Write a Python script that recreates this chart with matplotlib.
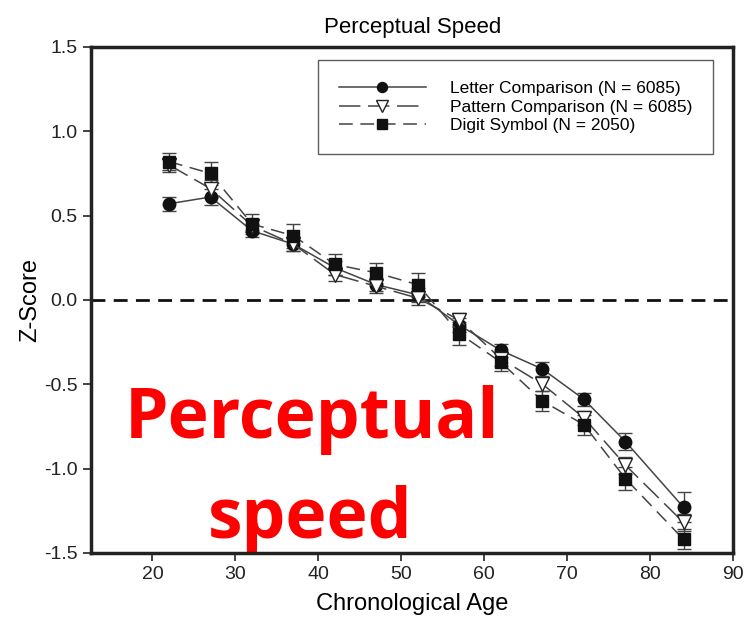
import numpy as np
import matplotlib.pyplot as plt
from matplotlib.lines import Line2D

ages = [22, 27, 32, 37, 42, 47, 52, 57, 62, 67, 72, 77, 84]

letter = [0.57, 0.61, 0.41, 0.33, 0.19, 0.09, 0.03, -0.15, -0.30, -0.41, -0.59, -0.84, -1.23]
letter_err = [0.04, 0.05, 0.04, 0.04, 0.04, 0.04, 0.04, 0.04, 0.04, 0.04, 0.04, 0.05, 0.09]

pattern = [0.80, 0.66, 0.44, 0.33, 0.15, 0.08, 0.01, -0.12, -0.35, -0.50, -0.70, -0.98, -1.32]
pattern_err = [0.04, 0.05, 0.04, 0.04, 0.04, 0.04, 0.04, 0.04, 0.04, 0.04, 0.04, 0.05, 0.05]

digit = [0.82, 0.75, 0.45, 0.38, 0.21, 0.16, 0.09, -0.20, -0.37, -0.60, -0.74, -1.06, -1.42]
digit_err = [0.05, 0.07, 0.06, 0.07, 0.06, 0.06, 0.07, 0.07, 0.05, 0.06, 0.06, 0.07, 0.06]

labels = ['Letter Comparison (N = 6085)',
          'Pattern Comparison (N = 6085)',
          'Digit Symbol (N = 2050)']

plt.rcParams['font.family'] = ['Liberation Sans', 'DejaVu Sans']

fig = plt.figure(figsize=(7.46, 6.34), dpi=100)
ax = fig.add_axes([0.122, 0.128, 0.861, 0.798])

lc = '#444444'
styles = [
    dict(marker='o', ms=9, mfc='#111111', mec='#111111', ls='-'),
    dict(marker='v', ms=10, mfc='white', mec='#222222', dashes=(14, 5)),
    dict(marker='s', ms=8.5, mfc='#111111', mec='#111111', dashes=(9, 5)),
]

for vals, errs, st in zip([letter, pattern, digit],
                          [letter_err, pattern_err, digit_err], styles):
    ax.errorbar(ages, vals, yerr=errs, color=lc, lw=1.1, ecolor=lc,
                elinewidth=1, capsize=5, capthick=1, zorder=3, **st)

ax.axhline(0, color='#111111', lw=2, dashes=(5, 3), zorder=2)

ax.set_xlim(12.6, 90)
ax.set_ylim(-1.5, 1.5)
ax.set_xticks(np.arange(20, 91, 10))
ax.set_yticks([-1.5, -1.0, -0.5, 0.0, 0.5, 1.0, 1.5])
ax.set_yticklabels(['-1.5', '-1.0', '-0.5', '0.0', '0.5', '1.0', '1.5'])
ax.tick_params(labelsize=14, length=6, width=1.2, colors='#222222')

for side in ['left', 'bottom', 'right', 'top']:
    ax.spines[side].set_linewidth(2.5)
    ax.spines[side].set_color('#222222')

ax.set_title('Perceptual Speed', fontsize=16, pad=10)
ax.set_xlabel('Chronological Age', fontsize=17, labelpad=7)
ax.set_ylabel('Z-Score', fontsize=17, labelpad=2)

handles = []
for st in styles:
    handles.append(Line2D([], [], color=lc, lw=1.1, **st))
leg = ax.legend(handles, labels, loc='upper right', bbox_to_anchor=(0.969, 0.974),
                fontsize=12.5, handlelength=5.0, frameon=True, fancybox=False,
                edgecolor='#333333', borderpad=1.2, labelspacing=0.2,
                handletextpad=1.4, markerscale=0.8, borderaxespad=0)
leg.get_frame().set_linewidth(1)

red_font = ['Open Sans', 'DejaVu Sans']
ax.text(39.2, -0.818, 'Perceptual', color='#ff0000', fontsize=50,
        fontweight='bold', family=red_font, ha='center', va='baseline', zorder=1)
ax.text(39.0, -1.411, 'speed', color='#ff0000', fontsize=50,
        fontweight='bold', family=red_font, ha='center', va='baseline', zorder=1)

fig.savefig('out.png', dpi=100)
